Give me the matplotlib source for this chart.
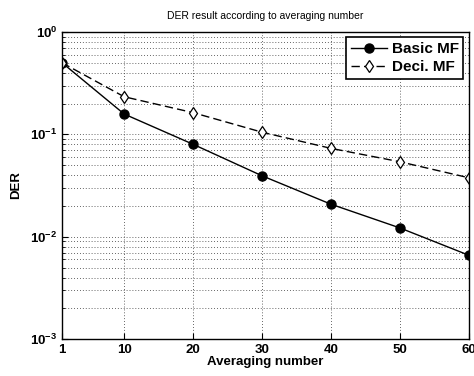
import matplotlib
matplotlib.use("Agg")
import matplotlib.pyplot as plt
from matplotlib.ticker import LogLocator, NullFormatter

plt.rcParams['font.family'] = ['Liberation Sans', 'DejaVu Sans']

averaging = [1, 10, 20, 30, 40, 50, 60]
basic_mf = [0.50, 0.158, 0.080, 0.0394, 0.0208, 0.0122, 0.0066]
deci_mf = [0.50, 0.233, 0.163, 0.105, 0.073, 0.054, 0.0377]
xtick_labels = ['1', '10', '20', '30', '40', '50', '60']

fig = plt.figure(figsize=(4.74, 3.76), dpi=100)
ax = fig.add_axes([0.131, 0.098, 0.858, 0.817])

ax.semilogy(averaging, basic_mf, '-', color='black', lw=1.0,
            marker='o', markersize=6.5, markerfacecolor='black',
            label='Basic MF')
ax.semilogy(averaging, deci_mf, '--', color='black', lw=1.0, dashes=(6, 3),
            marker='d', markersize=6, markerfacecolor='white',
            markeredgewidth=0.9, label='Deci. MF')

ax.set_xlim(1, 60)
ax.set_ylim(1e-3, 1)
ax.set_xticks(averaging)
ax.set_xticklabels(xtick_labels)
ax.yaxis.set_minor_locator(LogLocator(base=10, subs=range(2, 10)))
ax.yaxis.set_minor_formatter(NullFormatter())

grid_style = dict(linestyle=(0, (1, 2.5)), color='#333333', lw=0.6)
ax.grid(True, which='major', axis='both', **grid_style)
ax.grid(True, which='minor', axis='y', **grid_style)

ax.tick_params(axis='both', which='both', direction='in', labelsize=9.5)
ax.tick_params(axis='both', which='major', length=4)
ax.tick_params(axis='y', which='minor', length=2)
for lbl in ax.get_xticklabels() + ax.get_yticklabels():
    lbl.set_fontweight('bold')

for s in ax.spines.values():
    s.set_linewidth(1.0)

ax.set_title('DER result according to averaging number', fontsize=7.5, pad=9)
ax.set_xlabel('Averaging number', fontsize=9.5, fontweight='bold', labelpad=0)
ax.set_ylabel('DER', fontsize=9.5, fontweight='bold', labelpad=6)

leg = ax.legend(loc='upper right', prop={'weight': 'bold', 'size': 11},
                fancybox=False, framealpha=1, edgecolor='black',
                handlelength=2.4, borderpad=0.3, labelspacing=0.3,
                handletextpad=0.3, borderaxespad=0.35)
leg.get_frame().set_linewidth(1.2)

fig.savefig('out.png', dpi=100)
